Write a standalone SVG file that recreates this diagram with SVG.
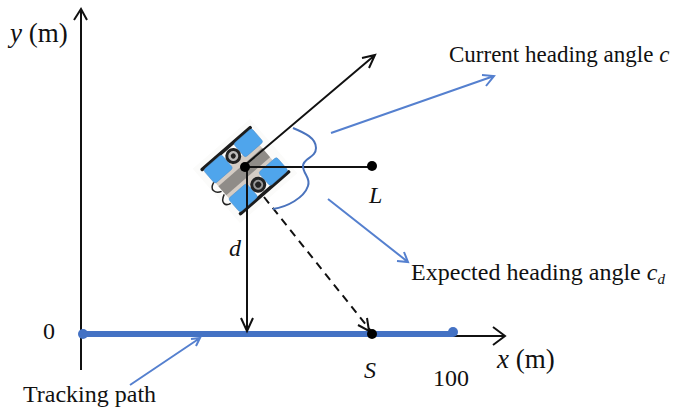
<svg xmlns="http://www.w3.org/2000/svg" width="685" height="418" viewBox="0 0 685 418">
<style>
text{font-family:"Liberation Serif","Times New Roman",serif;fill:#111}
.t{font-size:23px}
.m{font-size:24px}
.a{font-size:27px}
.i{font-style:italic}
.k{fill:none;stroke:#111;stroke-width:2}
.b{fill:none;stroke:#5580cf;stroke-width:2}
.w{fill:#4fa5ec;stroke:#4a8cc8;stroke-width:.5}
</style>
<rect width="685" height="418" fill="#fff"/>
<g id="robot" transform="translate(245 171) rotate(-41)">
<rect x="-38" y="-36" width="76" height="72" fill="#fbfbfa"/>
<rect x="-30" y="-14" width="58" height="28" rx="3" fill="#d4ccc4"/>
<rect x="-30" y="-6" width="58" height="12" fill="#8f8c88"/>
<rect x="-33" y="-31" width="67" height="3.500" rx="1.500" fill="#1c1c1c"/>
<rect x="-33" y="27.500" width="67" height="3.500" rx="1.500" fill="#1c1c1c"/>
<rect class="w" x="-31" y="-28" width="24" height="18" rx="2.500"/>
<rect class="w" x="9" y="-28" width="24" height="18" rx="2.500"/>
<rect class="w" x="-31" y="10" width="24" height="18" rx="2.500"/>
<rect class="w" x="9" y="10" width="24" height="18" rx="2.500"/>
<circle cx="1" cy="-19" r="6.500" fill="#bbb" stroke="#222" stroke-width="3"/>
<circle cx="1" cy="19" r="6.500" fill="#999" stroke="#222" stroke-width="3"/>
<circle cx="1" cy="-19" r="2.500" fill="#222"/>
<circle cx="1" cy="19" r="3" fill="#222"/>
<path d="M-31 -12C-40 -9 -37 -2 -31 0M-31 4C-40 8 -38 14 -32 15" fill="none" stroke="#222" stroke-width="1.500"/>
</g>
<g id="connectors">
<path class="k" d="M81 370V10M74 20L81 9L87 20"/>
<path class="k" d="M82 336H505M493 327L505 336L493 345"/>
<path d="M82 334H453" fill="none" stroke="#4472c4" stroke-width="6"/>
<path class="k" d="M244 166L375 55M362 58L375 55L369 68"/>
<path class="k" d="M244 167H372"/>
<path class="k" d="M247 166V331M241 318L247 331L253 318"/>
<path class="k" stroke-dasharray="8 6" d="M264 197L371 331"/>
<path class="k" d="M358 325L369 331L367 318"/>
<path class="b" d="M331 133L494 76M482 75L494 76L486 86"/>
<path class="b" d="M328 199L408 262M397 261L408 262L404 252"/>
<path class="b" d="M130 385L200 338M191 339L200 338L196 346"/>
<path d="M293 128C305 133 316 138 316 148C316 158 303 158 303 166C303 174 311 178 308 186C304 198 287 207 273 209" fill="none" stroke="#4a73bd" stroke-width="2"/>
</g>
<g id="point-center"><circle cx="245" cy="167" r="5" fill="#000"/></g>
<g id="point-L"><circle cx="372" cy="166" r="5" fill="#000"/><text class="m i" x="369" y="203">L</text></g>
<g id="point-S"><circle cx="372" cy="334" r="5" fill="#000"/><text class="m i" x="364" y="378">S</text></g>
<g id="point-0"><circle cx="83" cy="334" r="5" fill="#4472c4"/><text class="m" x="43" y="339">0</text></g>
<g id="point-100"><circle cx="453" cy="332" r="5" fill="#4472c4"/><text class="m" x="433" y="386">100</text></g>
<g id="labels">
<text class="a" x="10" y="42"><tspan class="i">y</tspan> (m)</text>
<text class="a" x="497" y="368"><tspan class="i">x</tspan> (m)</text>
<text class="m i" x="229" y="256">d</text>
<text class="t" x="449" y="62">Current heading angle <tspan class="i">c</tspan></text>
<text class="m" x="411" y="280" textLength="254">Expected heading angle <tspan class="i">c</tspan><tspan class="i" font-size="15" dy="4">d</tspan></text>
<text class="m" x="23" y="402">Tracking path</text>
</g>
</svg>
